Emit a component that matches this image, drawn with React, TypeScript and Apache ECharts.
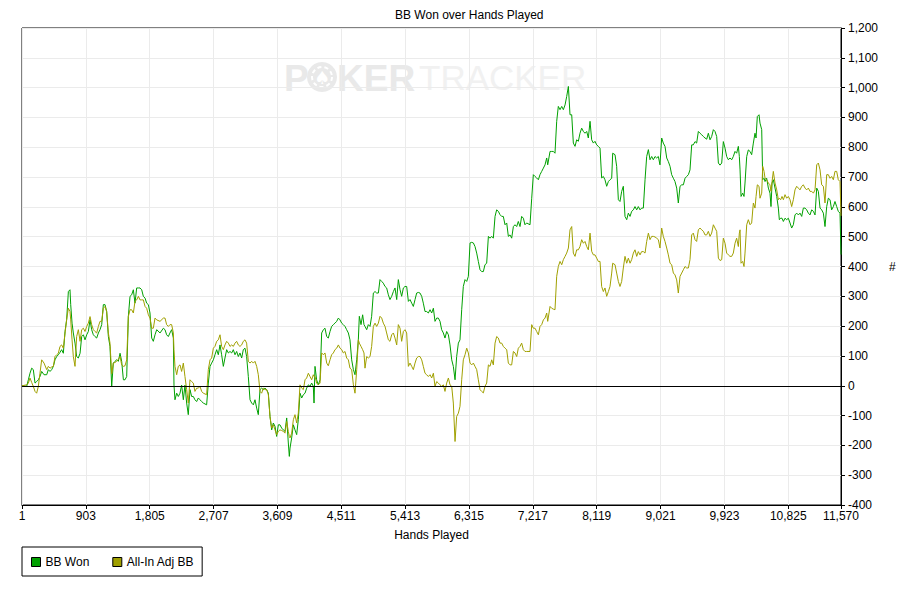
import React, { useEffect, useRef } from "react";
import * as echarts from "echarts";

// Hand numbers (x) shared by both series
const hands = [
  1, 67, 91, 114, 138, 161, 185, 208, 232, 255, 279, 312, 350, 373, 397, 420, 444, 467, 491, 514,
  538, 561, 585, 609, 632, 656, 679, 689, 708, 726, 750, 773, 797, 821, 844, 868, 891, 915, 938, 962,
  985, 1009, 1032, 1056, 1080, 1103, 1127, 1150, 1174, 1197, 1221, 1244, 1268, 1291, 1315, 1338, 1362, 1386, 1409, 1433,
  1456, 1480, 1503, 1527, 1550, 1574, 1597, 1621, 1645, 1668, 1692, 1715, 1739, 1762, 1786, 1809, 1833, 1856, 1880, 1904,
  1951, 1998, 2021, 2044, 2068, 2091, 2115, 2139, 2148, 2162, 2186, 2209, 2233, 2256, 2280, 2303, 2327, 2350, 2374, 2397,
  2421, 2444, 2468, 2492, 2515, 2539, 2562, 2609, 2633, 2657, 2680, 2704, 2727, 2751, 2774, 2798, 2821, 2845, 2868, 2892,
  2916, 2939, 2963, 2986, 3010, 3033, 3057, 3080, 3104, 3127, 3151, 3174, 3198, 3222, 3245, 3269, 3292, 3316, 3339, 3363,
  3386, 3410, 3433, 3457, 3481, 3504, 3528, 3551, 3575, 3598, 3622, 3645, 3669, 3692, 3716, 3740, 3763, 3777, 3787, 3810,
  3834, 3857, 3881, 3904, 3928, 3952, 3975, 3999, 4022, 4046, 4069, 4093, 4116, 4126, 4140, 4163, 4187, 4211, 4234, 4258,
  4281, 4305, 4328, 4352, 4375, 4399, 4422, 4446, 4470, 4493, 4517, 4540, 4564, 4587, 4611, 4634, 4658, 4682, 4705, 4729,
  4752, 4766, 4790, 4813, 4832, 4846, 4870, 4893, 4917, 4940, 4964, 4988, 5011, 5035, 5058, 5082, 5105, 5129, 5152, 5176,
  5199, 5223, 5247, 5270, 5294, 5317, 5341, 5364, 5388, 5411, 5435, 5459, 5482, 5506, 5529, 5553, 5576, 5600, 5623, 5647,
  5670, 5694, 5717, 5741, 5765, 5788, 5812, 5835, 5859, 5882, 5906, 5929, 5953, 5976, 6000, 6024, 6047, 6071, 6094, 6118,
  6141, 6165, 6188, 6212, 6235, 6259, 6283, 6306, 6330, 6353, 6377, 6400, 6424, 6447, 6471, 6494, 6518, 6541, 6565, 6589,
  6612, 6636, 6659, 6683, 6706, 6730, 6753, 6777, 6800, 6824, 6848, 6871, 6895, 6918, 6942, 6965, 6989, 7012, 7036, 7059,
  7083, 7106, 7130, 7177, 7201, 7224, 7248, 7271, 7295, 7318, 7342, 7366, 7389, 7413, 7427, 7460, 7483, 7507, 7530, 7554,
  7577, 7601, 7625, 7648, 7672, 7695, 7719, 7742, 7766, 7789, 7813, 7836, 7860, 7883, 7907, 7931, 7954, 7978, 8001, 8025,
  8048, 8072, 8095, 8119, 8142, 8166, 8189, 8213, 8236, 8260, 8284, 8307, 8331, 8345, 8378, 8401, 8425, 8448, 8472, 8495,
  8519, 8543, 8566, 8590, 8613, 8637, 8660, 8684, 8707, 8731, 8754, 8778, 8802, 8825, 8849, 8872, 8896, 8919, 8943, 8966,
  8990, 9013, 9037, 9060, 9084, 9108, 9131, 9155, 9178, 9202, 9225, 9249, 9272, 9296, 9320, 9343, 9367, 9390, 9414, 9437,
  9461, 9484, 9508, 9531, 9555, 9579, 9602, 9626, 9649, 9673, 9696, 9720, 9743, 9767, 9790, 9814, 9838, 9861, 9885, 9908,
  9932, 9955, 9979, 10002, 10026, 10049, 10073, 10096, 10120, 10134, 10144, 10158, 10181, 10200, 10214, 10238, 10261, 10285, 10308, 10332,
  10355, 10370, 10388, 10412, 10426, 10450, 10464, 10483, 10497, 10520, 10544, 10567, 10581, 10596, 10614, 10638, 10662, 10685, 10699, 10718,
  10737, 10756, 10779, 10803, 10826, 10850, 10873, 10897, 10920, 10944, 10968, 10991, 11015, 11038, 11062, 11085, 11109, 11132, 11156, 11180,
  11203, 11227, 11250, 11274, 11297, 11321, 11344, 11368, 11391, 11415, 11438, 11462, 11485, 11509, 11532, 11556, 11570,
];

// BB Won (green)
const bbWon = [
  0, -2, 20, 42, 59, 54, 9, 14, 20, 31, 48, 37, 37, 54, 48, 54, 65, 87, 98, 104,
  112, 121, 109, 182, 222, 316, 322, 272, 210, 177, 143, 98, 93, 109, 165, 171, 154, 171, 182, 221,
  188, 171, 165, 160, 177, 188, 205, 272, 272, 249, 165, 132, -2, 76, 82, 87, 82, 109, 82, 20,
  20, 31, 232, 300, 305, 322, 277, 328, 328, 328, 322, 300, 294, 277, 272, 244, 160, 149, 171, 188,
  177, 193, 188, 171, 165, 177, 188, 160, 2, -47, -25, -36, -25, 2, -47, 2, -58, -97, -13, -36,
  -36, -47, -53, -41, -47, -53, -58, -64, 9, 65, 76, 87, 104, 121, 104, 137, 104, 65, 93, 121,
  110, 115, 110, 121, 104, 115, 98, 110, 93, 121, 126, 98, 31, -47, -58, -64, -47, -75, -97, -13,
  -8, -13, -8, -13, -25, -103, -148, -125, -136, -170, -131, -131, -142, -148, -153, -108, -192, -237, -209, -175,
  -131, -148, -164, -114, -25, -41, -30, -25, -8, 3, -2, 9, -2, -58, 65, 20, 3, 20, 177, 188,
  193, 165, 160, 182, 199, 205, 210, 216, 227, 221, 210, 205, 199, 188, 177, 154, 87, 54, 37, 87,
  154, 233, 205, 238, 205, 199, 188, 205, 199, 233, 311, 316, 311, 311, 356, 350, 344, 333, 328, 305,
  289, 300, 316, 328, 289, 356, 322, 300, 328, 333, 333, 283, 289, 277, 266, 289, 311, 313, 311, 300,
  277, 249, 249, 244, 255, 244, 260, 216, 227, 227, 216, 188, 177, 160, 182, 171, 137, 87, 65, 20,
  98, 143, 154, 255, 333, 356, 350, 367, 479, 481, 479, 467, 445, 417, 389, 383, 383, 406, 411, 501,
  495, 501, 495, 568, 590, 585, 574, 568, 568, 540, 546, 501, 506, 495, 534, 540, 534, 551, 534, 568,
  562, 540, 546, 540, 629, 708, 702, 697, 691, 708, 719, 730, 741, 764, 741, 786, 786, 786, 780, 887,
  937, 926, 937, 926, 942, 970, 1004, 909, 909, 814, 803, 825, 820, 847, 864, 853, 847, 853, 831, 887,
  825, 814, 820, 808, 803, 797, 697, 702, 691, 669, 685, 691, 696, 780, 775, 736, 624, 618, 652, 669,
  568, 557, 579, 568, 585, 590, 601, 590, 601, 590, 596, 596, 691, 769, 792, 758, 769, 758, 769, 764,
  769, 741, 831, 814, 803, 764, 752, 736, 708, 696, 685, 663, 613, 669, 674, 674, 696, 702, 708, 724,
  808, 808, 819, 814, 853, 847, 842, 836, 831, 827, 847, 825, 836, 859, 853, 836, 747, 740, 747, 819,
  797, 769, 758, 764, 758, 769, 786, 780, 803, 769, 724, 635, 646, 635, 680, 769, 791, 786, 775, 814,
  847, 831, 903, 909, 881, 859, 691, 696, 685, 696, 663, 646, 601, 680, 691, 663, 635, 596, 557, 562,
  562, 551, 562, 557, 562, 546, 529, 540, 573, 579, 573, 579, 568, 596, 596, 590, 579, 573, 590, 585,
  573, 663, 652, 596, 590, 579, 534, 601, 629, 624, 590, 601, 618, 601, 585, 579, 440,
];

// All-In Adj BB (olive)
const allInAdj = [
  0, 3, 9, 26, 11, -2, -19, -25, -2, 42, 87, 76, 54, 65, 59, 63, 65, 98, 104, 109,
  132, 137, 126, 177, 222, 260, 249, 221, 154, 98, 65, 165, 188, 149, 188, 193, 182, 199, 210, 232,
  205, 188, 182, 177, 199, 216, 216, 260, 266, 249, 177, 143, 40, 76, 78, 82, 89, 98, 70, 65,
  67, 87, 232, 255, 255, 244, 283, 288, 300, 288, 288, 288, 266, 260, 238, 227, 193, 193, 227, 221,
  216, 227, 227, 205, 199, 205, 205, 177, 121, 65, 37, 65, 70, 48, 76, 31, -13, -58, 20, 14,
  9, -19, -8, -8, -2, -19, -25, -30, 54, 87, 93, 126, 132, 149, 154, 171, 132, 121, 137, 149,
  143, 132, 137, 132, 143, 149, 137, 132, 137, 149, 154, 143, 82, 76, 82, 76, 82, 65, 37, -19,
  -25, -8, -13, -13, -30, -103, -142, -131, -148, -164, -153, -148, -150, -153, -159, -120, -153, -170, -175, -159,
  -114, -97, -125, -92, 3, -8, -13, 20, 26, 42, 31, 20, 37, 31, 31, 9, 3, 9, 110, 104,
  110, 76, 67, 87, 104, 110, 121, 126, 137, 126, 121, 110, 115, 93, 87, 59, 54, 3, -25, 54,
  154, 143, 132, 121, 110, 59, 98, 93, 98, 132, 199, 210, 199, 210, 233, 227, 210, 199, 177, 154,
  149, 171, 177, 160, 137, 205, 193, 149, 182, 188, 177, 65, 76, 65, 54, 76, 93, 98, 98, 87,
  65, 42, 37, 31, 37, 26, 42, -2, 14, 9, 3, -2, 3, -19, 9, 26, 3, -2, -58, -187,
  -103, -92, -69, 20, 87, 104, 126, 110, 76, 70, 76, 65, 54, 20, -13, -19, -24, -2, 9, 70,
  65, 87, 70, 143, 165, 160, 143, 143, 132, 126, 121, 76, 70, 70, 115, 110, 98, 126, 132, 143,
  121, 115, 115, 115, 205, 193, 193, 182, 171, 199, 205, 221, 227, 244, 216, 266, 260, 257, 255, 367,
  400, 417, 406, 423, 434, 445, 462, 523, 534, 445, 434, 456, 456, 467, 490, 478, 484, 467, 456, 512,
  451, 439, 439, 428, 417, 417, 333, 316, 328, 300, 316, 333, 378, 411, 406, 378, 350, 333, 350, 395,
  434, 411, 428, 411, 423, 445, 456, 434, 450, 439, 450, 450, 445, 484, 512, 490, 501, 501, 499, 495,
  490, 462, 529, 501, 484, 462, 439, 411, 406, 378, 372, 355, 311, 367, 378, 389, 400, 395, 395, 423,
  506, 512, 490, 484, 523, 529, 523, 518, 506, 506, 518, 501, 512, 540, 529, 518, 428, 420, 423, 495,
  478, 445, 439, 434, 434, 445, 478, 495, 467, 512, 523, 411, 417, 400, 445, 540, 557, 540, 546, 613,
  596, 635, 674, 669, 629, 646, 736, 719, 696, 691, 680, 674, 652, 685, 719, 680, 657, 624, 629, 624,
  635, 624, 641, 629, 635, 624, 601, 624, 657, 669, 663, 657, 669, 674, 663, 657, 663, 652, 652, 646,
  657, 741, 747, 724, 674, 669, 613, 708, 708, 696, 702, 691, 719, 719, 691, 685, 570,
];

const seriesNames = ["BB Won", "All-In Adj BB"];
const seriesColors = ["#00a000", "#a0a000"];
const xFirstHand = 1;
const xLastHand = 11570;
const xTickStep = 902;
const yMin = -400;
const yMax = 1200;
const yStep = 100;

const FONT = "'Liberation Sans', Arial, sans-serif";

export default function App() {
  const ref = useRef<HTMLDivElement>(null);

  useEffect(() => {
    if (!ref.current) return;
    const chart = echarts.init(ref.current, null, { renderer: "svg" });
    const fmt = (v: number) => Math.round(v).toLocaleString("en-US");
    const toData = (vals: number[]) => hands.map((h, i) => [h - xFirstHand, vals[i]]);

    chart.setOption({
      animation: false,
      backgroundColor: "#ffffff",
      textStyle: { fontFamily: FONT, color: "#000" },
      title: {
        text: "BB Won over Hands Played",
        left: 390,
        top: 4,
        textStyle: { fontSize: 12, fontWeight: "normal", color: "#000", fontFamily: FONT },
      },
      graphic: [
        {
          type: "group",
          silent: true,
          z: 1,
          children: [
            {
              type: "text",
              x: 284,
              y: 60,
              style: { text: "P", font: `bold 37px ${FONT}`, fill: "#e9e9e9" },
            },
            {
              type: "circle",
              shape: { cx: 322, cy: 77, r: 15 },
              style: { fill: "#e9e9e9" },
            },
            {
              type: "circle",
              shape: { cx: 322, cy: 77, r: 10 },
              style: { fill: "none", stroke: "#ffffff", lineWidth: 2, lineDash: [4, 3] },
            },
            {
              type: "text",
              x: 322,
              y: 77,
              style: {
                text: "♠",
                font: "18px 'DejaVu Sans', sans-serif",
                fill: "#ffffff",
                align: "center",
                verticalAlign: "middle",
              },
            },
            {
              type: "text",
              x: 337,
              y: 60,
              style: { text: "KER", font: `bold 37px ${FONT}`, fill: "#e9e9e9" },
            },
            {
              type: "text",
              x: 419,
              y: 60,
              style: { text: "TRACKER", font: `35px ${FONT}`, fill: "#f1f1f1" },
            },
          ],
        },
      ],
      legend: {
        data: seriesNames,
        left: 22,
        top: 547,
        orient: "horizontal",
        icon: "rect",
        itemWidth: 9,
        itemHeight: 9,
        itemGap: 23,
        padding: [9, 8, 8, 9],
        borderColor: "#000",
        borderWidth: 1,
        borderRadius: 0,
        textStyle: { fontSize: 12, color: "#000", fontFamily: FONT },
        itemStyle: { borderColor: "#000", borderWidth: 1 },
      },
      grid: {
        left: 22,
        right: 62,
        top: 28,
        bottom: 84,
        show: true,
        borderColor: "#000",
        borderWidth: 1,
        backgroundColor: "transparent",
        containLabel: false,
      },
      xAxis: {
        type: "value",
        min: 0,
        max: xLastHand - xFirstHand,
        interval: xTickStep,
        name: "Hands Played",
        nameLocation: "middle",
        nameGap: 24,
        nameTextStyle: { fontSize: 12, color: "#000", fontFamily: FONT },
        axisLine: { show: true, onZero: false, lineStyle: { color: "#000", width: 1 } },
        axisTick: { show: true, length: 4, lineStyle: { color: "#000" } },
        axisLabel: {
          formatter: (v: number) => fmt(v + xFirstHand),
          fontSize: 12,
          color: "#000",
          margin: 5,
          fontFamily: FONT,
          showMaxLabel: true,
          showMinLabel: true,
        },
        splitLine: { show: true, lineStyle: { color: "#ebebeb", width: 1 } },
      },
      yAxis: {
        type: "value",
        position: "right",
        min: yMin,
        max: yMax,
        interval: yStep,
        name: "#",
        nameLocation: "middle",
        nameGap: 48,
        nameRotate: 0,
        nameTextStyle: { fontSize: 12, color: "#000", fontFamily: FONT },
        axisLine: { show: true, onZero: false, lineStyle: { color: "#000", width: 1 } },
        axisTick: { show: true, length: 4, lineStyle: { color: "#000" } },
        axisLabel: {
          formatter: (v: number) => fmt(v),
          fontSize: 12,
          color: "#000",
          margin: 7,
          fontFamily: FONT,
        },
        splitLine: { show: true, lineStyle: { color: "#ebebeb", width: 1 } },
      },
      series: [
        {
          name: seriesNames[0],
          type: "line",
          data: toData(bbWon),
          showSymbol: false,
          symbol: "none",
          color: seriesColors[0],
          lineStyle: { color: seriesColors[0], width: 1 },
          z: 3,
          markLine: {
            silent: true,
            symbol: "none",
            label: { show: false },
            lineStyle: { color: "#000", type: "solid", width: 1 },
            data: [{ yAxis: 0 }],
          },
        },
        {
          name: seriesNames[1],
          type: "line",
          data: toData(allInAdj),
          showSymbol: false,
          symbol: "none",
          color: seriesColors[1],
          lineStyle: { color: seriesColors[1], width: 1 },
          z: 3,
        },
      ],
    });

    return () => chart.dispose();
  }, []);

  return (
    <div
      ref={ref}
      style={{ position: "fixed", left: 0, top: 0, width: 903, height: 589, background: "#fff" }}
    />
  );
}
